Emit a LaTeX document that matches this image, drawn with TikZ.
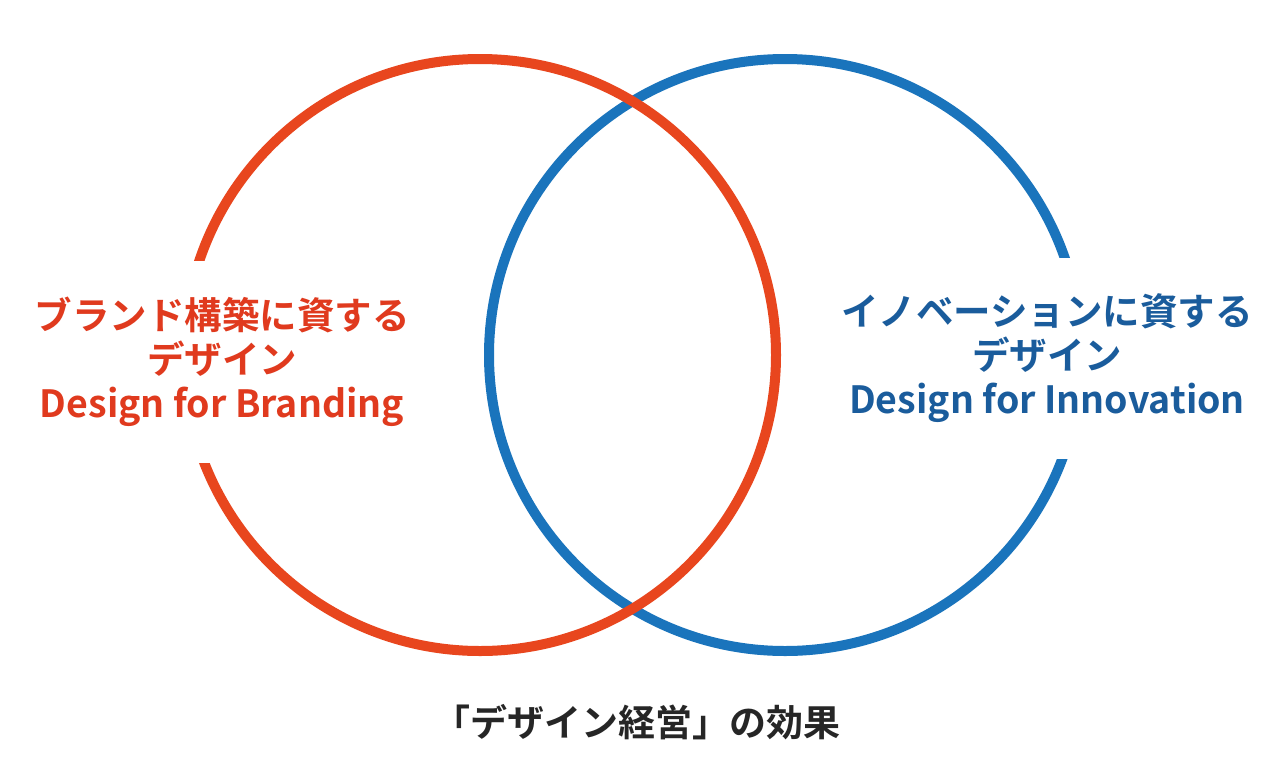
\documentclass[tikz,border=0pt]{standalone}
\usepackage{fontspec}
\newfontfamily\jp{Noto Sans CJK JP Bold}
\definecolor{cred}{HTML}{E8461E}
\definecolor{cblue}{HTML}{1A74BC}
\definecolor{tblue}{HTML}{1A5C9C}
\definecolor{tred}{HTML}{E03A1E}
\begin{document}
\begin{tikzpicture}[x=1pt,y=-1pt,
  ring/.style={line width=10pt},
  lbl/.style={font=\jp\fontsize{37.5}{44}\selectfont, align=center, fill=white, inner xsep=6pt, inner ysep=36pt}]
\useasboundingbox (0,0) rectangle (1280,758);
\draw[ring, cblue] (785,355) circle[radius=296];
\draw[ring, cred] (480,355) circle[radius=296];
\node[lbl, text=tred] (red) at (222,362) {ブランド構築に資する\\デザイン\\Design for Branding};
\node[lbl, text=tblue] (blue) at (1047,358) {イノベーションに資する\\デザイン\\Design for Innovation};
\node[font=\jp\fontsize{37}{44}\selectfont, text=black!85] (cap) at (637,722) {「デザイン経営」の効果};
\end{tikzpicture}
\end{document}
